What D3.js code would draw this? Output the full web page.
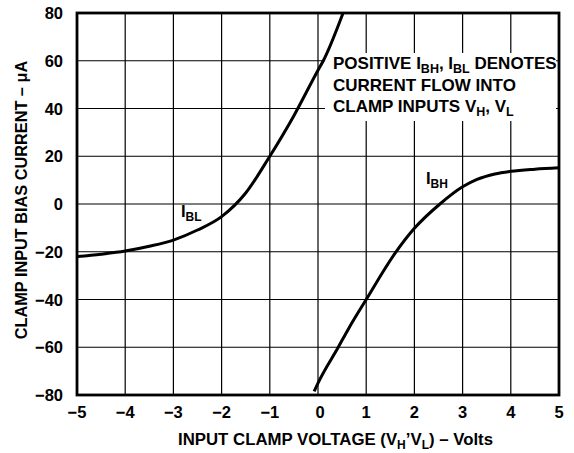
<!DOCTYPE html>
<html>
<head>
<meta charset="utf-8">
<script src="https://cdn.jsdelivr.net/npm/d3@7"></script>
<style>
html,body{margin:0;padding:0;background:#fff;}
svg{display:block;}
text{font-family:"Liberation Sans",Arial,Helvetica,sans-serif;font-weight:bold;fill:#000;}
</style>
</head>
<body>
<svg id="chart" width="574" height="453"></svg>
<script>
// ---- data ----
const xTicks = [-5,-4,-3,-2,-1,0,1,2,3,4,5];
const yTicks = [-80,-60,-40,-20,0,20,40,60,80];
const iblX = [-5,-4.5,-4,-3.5,-3,-2.5,-2,-1.5,-1,-0.5,0,0.11,0.52];
const iblY = [-22,-21,-19.7,-17.7,-15.1,-10.9,-5.3,4.6,20,37,56,60,80];
const ibhX = [-0.08,0,0.42,0.64,1,1.6,2,2.53,3,3.3,3.67,4,4.5,5];
const ibhY = [-78.5,-75,-60,-52,-40,-20.6,-10.2,0,7.2,10.3,12.6,13.7,14.6,15.2];

const svg = d3.select("#chart");
const x = d3.scaleLinear().domain([-5,5]).range([77,559]);
const y = d3.scaleLinear().domain([-80,80]).range([395,13]);
const minus = v => (v<0 ? "\u2212"+Math.abs(v) : ""+v);

// grid
svg.append("g").selectAll("line").data(xTicks).join("line")
  .attr("x1",d=>x(d)).attr("x2",d=>x(d)).attr("y1",y(-80)).attr("y2",y(80))
  .attr("stroke","#000").attr("stroke-width",1.2);
svg.append("g").selectAll("line").data(yTicks).join("line")
  .attr("x1",x(-5)).attr("x2",x(5)).attr("y1",d=>y(d)).attr("y2",d=>y(d))
  .attr("stroke","#000").attr("stroke-width",1.2);

// annotation box (white, hides grid)
svg.append("rect").attr("x",325).attr("y",53).attr("width",231).attr("height",68).attr("fill","#fff");

// frame
svg.append("rect").attr("x",x(-5)).attr("y",y(80)).attr("width",x(5)-x(-5)).attr("height",y(-80)-y(80))
  .attr("fill","none").attr("stroke","#000").attr("stroke-width",2.8);

// curves
const line = d3.line().x(d=>x(d[0])).y(d=>y(d[1])).curve(d3.curveMonotoneX);
svg.append("path").datum(d3.zip(iblX,iblY)).attr("d",line)
  .attr("fill","none").attr("stroke","#000").attr("stroke-width",3);
svg.append("path").datum(d3.zip(ibhX,ibhY)).attr("d",line)
  .attr("fill","none").attr("stroke","#000").attr("stroke-width",3);

// axes labels
svg.append("g").selectAll("text").data(xTicks).join("text")
  .attr("x",d=>x(d)+(d===0?2:0)).attr("y",418).attr("text-anchor","middle")
  .attr("font-size",16.5).text(d=>minus(d));
svg.append("g").selectAll("text").data(yTicks).join("text")
  .attr("x",63).attr("y",d=>y(d)+6).attr("text-anchor","end")
  .attr("font-size",16.5).text(d=>minus(d));

// axis titles
const xt = svg.append("text").attr("x",335.5).attr("y",445).attr("text-anchor","middle").attr("font-size",16.8);
xt.append("tspan").text("INPUT CLAMP VOLTAGE (V");
xt.append("tspan").attr("font-size",12).attr("dy",4).text("H");
xt.append("tspan").attr("dy",-4).text("\u2019V");
xt.append("tspan").attr("font-size",12).attr("dy",4).text("L");
xt.append("tspan").attr("dy",-4).text(") \u2013 Volts");

svg.append("text").attr("transform","translate(26.5,200) rotate(-90)")
  .attr("text-anchor","middle").attr("font-size",16.3)
  .text("CLAMP INPUT BIAS CURRENT \u2013 \u03bcA");

// curve labels
function subLabel(px,py,main,sub){
  const t = svg.append("text").attr("x",px).attr("y",py).attr("font-size",16.5);
  t.append("tspan").text(main);
  t.append("tspan").attr("font-size",12).attr("dy",3.5).text(sub);
}
subLabel(181,217,"I","BL");
subLabel(426,184,"I","BH");

// annotation text
const a1 = svg.append("text").attr("x",333).attr("y",69).attr("font-size",17);
a1.append("tspan").text("POSITIVE I");
a1.append("tspan").attr("font-size",12.5).attr("dy",4).text("BH");
a1.append("tspan").attr("dy",-4).text(", I");
a1.append("tspan").attr("font-size",12.5).attr("dy",4).text("BL");
a1.append("tspan").attr("dy",-4).text(" DENOTES");
svg.append("text").attr("x",333).attr("y",91).attr("font-size",17).text("CURRENT FLOW INTO");
const a3 = svg.append("text").attr("x",333).attr("y",112).attr("font-size",17);
a3.append("tspan").text("CLAMP INPUTS V");
a3.append("tspan").attr("font-size",12.5).attr("dy",4).text("H");
a3.append("tspan").attr("dy",-4).text(", V");
a3.append("tspan").attr("font-size",12.5).attr("dy",4).text("L");
</script>
</body>
</html>
